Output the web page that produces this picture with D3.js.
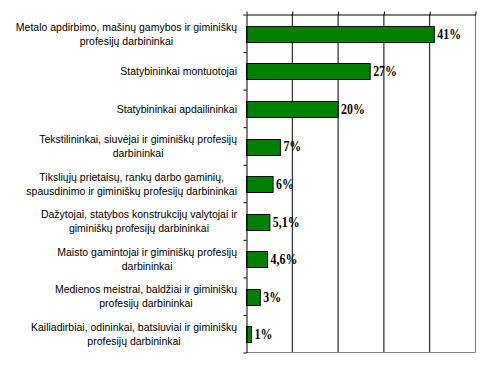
<!DOCTYPE html>
<html><head><meta charset="utf-8">
<script src="https://cdn.jsdelivr.net/npm/d3@7"></script>
<style>body{margin:0;background:#fff}svg{display:block}</style>
</head><body>
<svg id="c" width="491" height="368"></svg>
<script>
const categories = [
  ["Metalo apdirbimo, mašinų gamybos ir giminiškų", "profesijų darbininkai"],
  ["Statybininkai montuotojai"],
  ["Statybininkai apdailininkai"],
  ["Tekstilininkai, siuvėjai ir giminiškų profesijų", "darbininkai"],
  ["Tiksliųjų prietaisų, rankų darbo gaminių,", "spausdinimo ir giminiškų profesijų darbininkai"],
  ["Dažytojai, statybos konstrukcijų valytojai ir", "giminiškų profesijų darbininkai"],
  ["Maisto gamintojai ir giminiškų profesijų", "darbininkai"],
  ["Medienos meistrai, baldžiai ir giminiškų", "profesijų darbininkai"],
  ["Kailiadirbiai, odininkai, batsiuviai ir giminiškų", "profesijų darbininkai"]
];
const values = [41, 27, 20, 7.4, 5.8, 5.1, 4.6, 3, 1.1];
const valueLabels = ["41%", "27%", "20%", "7%", "6%", "5,1%", "4,6%", "3%", "1%"];
const xTicks = [0, 10, 20, 30, 40, 50];

const svg = d3.select("#c");
const L = 246, R = 475, T = 14, B = 352;
const x = d3.scaleLinear().domain([0, 50]).range([L, R]);
const y = d3.scaleBand().domain(d3.range(categories.length)).range([T, B]).padding(0);
const yEdge = d3.scaleLinear().domain([0, categories.length]).range([T, B]);

// gridlines
svg.append("g").selectAll("line").data(xTicks.slice(1, -1)).join("line")
  .attr("x1", d => x(d) + 0.5).attr("x2", d => x(d) + 0.5)
  .attr("y1", T).attr("y2", B).attr("stroke", "#000").attr("stroke-width", 1);
// right & bottom border (gray)
svg.append("path").attr("d", `M${R + 0.5},${T}V${B + 0.5}H${L}`)
  .attr("fill", "none").attr("stroke", "#808080");

// bars
const barH = y.bandwidth() * 0.42;
svg.append("g").selectAll("rect").data(values).join("rect")
  .attr("x", x(0) + 0.5)
  .attr("y", (d, i) => Math.round(y(i) + y.bandwidth() / 2 - barH / 2 + 1) + 0.5)
  .attr("width", d => x(d) - x(0))
  .attr("height", Math.round(barH))
  .attr("fill", "#008000").attr("stroke", "#000").attr("stroke-width", 1);

// top axis
const topAxis = svg.append("g").attr("transform", `translate(0.5,${T + 0.5})`)
  .call(d3.axisTop(x).tickValues(xTicks).tickSize(3).tickSizeOuter(0).tickFormat(""));
topAxis.selectAll("path,line").attr("stroke", "#000");
// left axis
const leftAxis = svg.append("g").attr("transform", `translate(${L + 0.5},0.5)`)
  .call(d3.axisLeft(yEdge).tickValues(d3.range(categories.length + 1)).tickSize(3).tickSizeOuter(0).tickFormat(""));
leftAxis.selectAll("path,line").attr("stroke", "#000");

// value labels
const sx = 0.85;
svg.append("g").selectAll("text").data(values).join("text")
  .attr("transform", (d, i) => `translate(${x(d) + 3.5},${y(i) + y.bandwidth() / 2 + 6}) scale(${sx},1)`)
  .attr("font-family", "Liberation Serif, Times New Roman, serif")
  .attr("font-weight", "bold").attr("font-size", 14).attr("fill", "#000")
  .text((d, i) => valueLabels[i]);

// category labels
const lineH = 14, rightEdge = 237;
categories.forEach((lines, i) => {
  const t = svg.append("text")
    .attr("font-family", "Liberation Sans, Arial, sans-serif")
    .attr("font-size", 10.5).attr("fill", "#000").attr("text-anchor", "middle");
  lines.forEach((ln, j) => t.append("tspan").attr("x", 0)
    .attr("y", (j - (lines.length - 1) / 2) * lineH + 3.8).text(ln));
  let w = 0;
  t.selectAll("tspan").each(function () { w = Math.max(w, this.getComputedTextLength()); });
  const cx = rightEdge - w / 2;
  t.attr("transform", `translate(${cx},${y(i) + y.bandwidth() / 2 + 1})`);
});
</script>
</body></html>
